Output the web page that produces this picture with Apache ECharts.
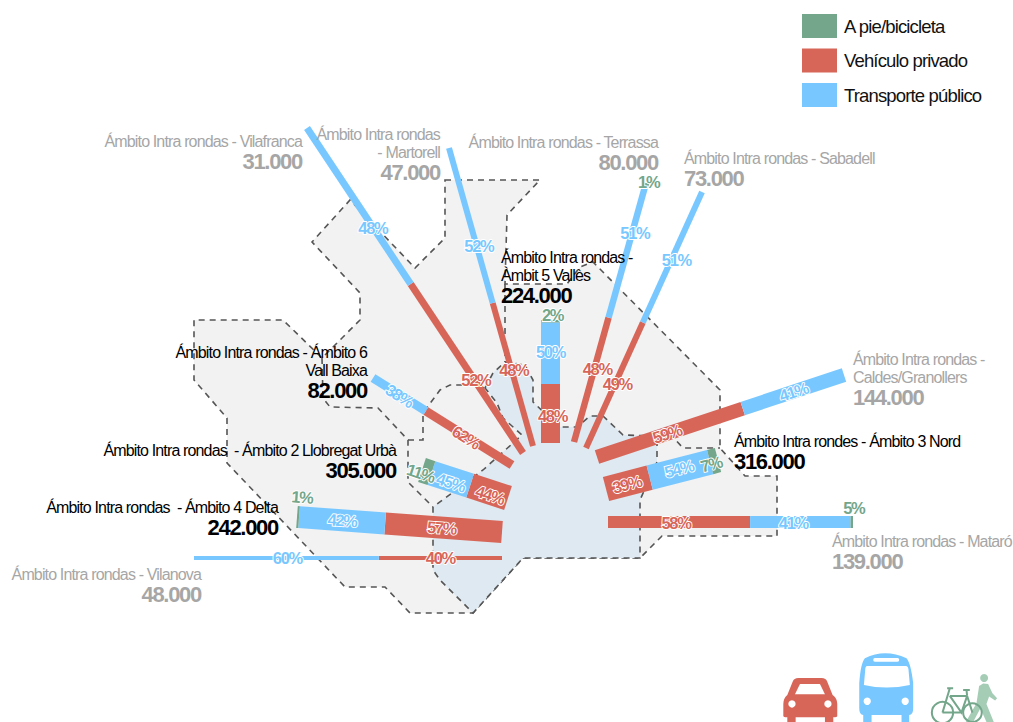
<!DOCTYPE html>
<html>
<head>
<meta charset="utf-8">
<title>Ámbito Intra rondas</title>
<script src="https://cdn.jsdelivr.net/npm/echarts@6/dist/echarts.min.js"></script>
<style>
    html, body { margin: 0; padding: 0; background: #fff; }
    #chart { width: 1013px; height: 722px; }
    #chart text { letter-spacing: -0.85px; }
    /* las etiquetas de % y los totales van mas apretados */
    #chart text[style*="16.5px"] { letter-spacing: -1.3px; }
    #chart text[style*="22px"] { letter-spacing: -1.3px; }
</style>
</head>
<body>
<div id="chart"></div>
<script>
// datos
var spokeNames = [
    'Ámbito Intra rondas - Vilafranca',
    'Ámbito Intra rondas\n- Martorell',
    'Ámbito Intra rondas -\nÀmbit 5 Vallès',
    'Ámbito Intra rondas - Terrassa',
    'Ámbito Intra rondas - Sabadell',
    'Ámbito Intra rondas -\nCaldes/Granollers',
    'Ámbito Intra rondes - Ámbito 3 Nord',
    'Ámbito Intra rondas - Mataró',
    'Ámbito Intra rondas - Vilanova',
    'Ámbito Intra rondas  - Ámbito 4 Delta',
    'Ámbito Intra rondas  - Ámbito 2 Llobregat Urbà',
    'Ámbito Intra rondas - Ámbito 6\nVall Baixa'
];
var tripTotals = [31000, 47000, 224000, 80000, 73000, 144000, 316000, 139000, 48000, 242000, 305000, 82000];
var privateShare = [52, 48, 48, 48, 49, 59, 39, 58, 40, 57, 44, 62];
var publicShare = [48, 52, 50, 51, 51, 41, 54, 41, 60, 42, 45, 38];
// Mataró: la etiqueta dice 5% pero la barra solo dibuja una linea, por eso walkShare lleva 1
var walkShare = [0, 0, 2, 1, 0, 0, 7, 1, 0, 1, 11, 0];
var walkLabels = ['', '', '2%', '1%', '', '', '7%', '5%', '', '1%', '11%', ''];

var modeNames = ['A pie/bicicleta', 'Vehículo privado', 'Transporte público'];
var modeColors = { walk: '#73a68a', private: '#d76659', public: '#78c8ff' };

// colocacion de cada radio sobre el plano (unidades del eje, 1013 x 722)
var spokeLayout = [
    { from: [523, 453], to: [307, 128], width: 7 },
    { from: [533, 446], to: [449, 148], width: 6 },
    { from: [550.5, 443], to: [550.5, 320], width: 19 },
    { from: [574, 442], to: [646, 183], width: 6.5 },
    { from: [586, 448], to: [702, 192], width: 6 },
    { from: [597, 457], to: [844, 375], width: 14, tilt: true },
    { from: [606, 489], to: [718, 460], width: 25, tilt: true },
    { from: [608, 522], to: [853, 522], width: 12 },
    { from: [502, 558], to: [194, 558], width: 4 },
    { from: [502, 532], to: [297, 517], width: 22, tilt: true },
    { from: [508, 498], to: [422, 470], width: 25, tilt: true },
    { from: [512, 465], to: [373, 378], width: 9, tilt: true }
];
// ajuste de cada etiqueta [privado, publico, a pie]
var labelNudge = [
    [[9, 11], [14, 22], [0, 0]],
    [[1, -4], [8, 21], [0, 0]],
    [[2, 2.5], [0, -1], [2, -6]],
    [[6, -11], [8, -19], [3, -2]],
    [[3, -1], [4, 3], [0, 0]],
    [[-3, 1], [0, 0], [0, 0]],
    [[-1, 1], [-1, -1], [-3, 3]],
    [[-3, 1], [-7, 1], [2, -14]],
    [[0, 0], [1, 0], [0, 0]],
    [[-2, 0], [0, 0], [4, -20]],
    [[1, 3], [0, 3], [-6, 1.5]],
    [[-3, -1], [0, 1], [0, 0]]
];
var textLayout = [
    { at: [302, 141], align: 'right', grey: true },
    { at: [440, 134], align: 'right', grey: true },
    { at: [501, 257], align: 'left' },
    { at: [658, 142], align: 'right', grey: true },
    { at: [684, 158], align: 'left', grey: true },
    { at: [853, 359], align: 'left', grey: true },
    { at: [734, 441], align: 'left' },
    { at: [832, 541], align: 'left', grey: true },
    { at: [201, 574], align: 'right', grey: true },
    { at: [278, 507], align: 'right' },
    { at: [396, 450], align: 'right' },
    { at: [367, 352], align: 'right' }
];

// contornos del mapa
var outerArea = [[445, 180], [540, 180], [507, 215], [505, 284], [567, 284], [580, 267], [593, 262], [720, 390], [720, 448], [745, 476], [777, 476], [777, 536], [662, 536], [640, 558], [523, 558], [473, 613], [410, 613], [385, 587], [345, 587], [227, 463], [227, 418], [194, 380], [194, 320], [283, 320], [322, 358], [360, 320], [360, 293], [312, 242], [350, 200], [415, 268], [445, 238]];
var centreArea = [[485, 388], [493, 373], [505, 362], [525, 365], [533, 380], [533, 402], [552, 420], [560, 427], [577, 427], [590, 416], [603, 416], [623, 435], [657, 436], [657, 462], [640, 500], [640, 558], [523, 558], [473, 613], [440, 580], [433, 570], [433, 507], [483, 470], [522, 435], [503, 418], [497, 403]];
var innerBorders = [
    [[505, 284], [505, 362]],
    [[322, 358], [323, 398], [330, 407], [378, 408], [408, 440], [408, 482], [433, 507]],
    [[408, 440], [423, 440], [423, 413], [440, 390], [450, 385], [467, 385], [485, 388]],
    [[657, 436], [673, 437], [683, 448], [720, 448]]
];

function fmtTotal(v) {
    return String(v).replace(/(\d)(?=(\d{3})+$)/g, '$1.');
}

function share(i) {
    return [privateShare[i], publicShare[i], walkShare[i]];
}

// tramo del radio i para el modo m (0 privado, 1 publico, 2 a pie)
function segmentEnds(i, m, api) {
    var s = share(i), sum = s[0] + s[1] + s[2], before = 0;
    for (var k = 0; k < m; k++) {
        before += s[k];
    }
    var a = spokeLayout[i].from, b = spokeLayout[i].to;
    var t0 = before / sum, t1 = (before + s[m]) / sum;
    return [
        api.coord([a[0] + (b[0] - a[0]) * t0, a[1] + (b[1] - a[1]) * t0]),
        api.coord([a[0] + (b[0] - a[0]) * t1, a[1] + (b[1] - a[1]) * t1])
    ];
}

function renderSegment(m, color) {
    return function (params, api) {
        var i = api.value(0);
        if (!share(i)[m]) {
            return null;
        }
        var e = segmentEnds(i, m, api);
        var dx = e[1][0] - e[0][0], dy = e[1][1] - e[0][1];
        var len = Math.sqrt(dx * dx + dy * dy);
        var hw = spokeLayout[i].width / 2;
        var nx = -dy / len * hw, ny = dx / len * hw;
        return {
            type: 'polygon',
            shape: {
                points: [
                    [e[0][0] + nx, e[0][1] + ny],
                    [e[1][0] + nx, e[1][1] + ny],
                    [e[1][0] - nx, e[1][1] - ny],
                    [e[0][0] - nx, e[0][1] - ny]
                ]
            },
            style: { fill: color }
        };
    };
}

function renderPercents(params, api) {
    var i = api.value(0);
    var texts = [privateShare[i] + '%', publicShare[i] + '%', walkLabels[i]];
    var colors = [modeColors.private, modeColors.public, modeColors.walk];
    var a = spokeLayout[i].from, b = spokeLayout[i].to;
    var rot = spokeLayout[i].tilt ? Math.atan2(a[1] - b[1], b[0] - a[0]) : 0;
    if (rot > Math.PI / 2) {
        rot -= Math.PI;
    } else if (rot < -Math.PI / 2) {
        rot += Math.PI;
    }
    var children = [];
    for (var m = 0; m < 3; m++) {
        if (!texts[m]) {
            continue;
        }
        var e = segmentEnds(i, m, api);
        var n = labelNudge[i][m];
        children.push({
            type: 'text',
            x: (e[0][0] + e[1][0]) / 2 + n[0],
            y: (e[0][1] + e[1][1]) / 2 + n[1],
            rotation: rot,
            style: {
                text: texts[m],
                fill: colors[m],
                stroke: '#fff',
                lineWidth: 1.8,
                align: 'center',
                verticalAlign: 'middle',
                font: 'bold 16.5px "Liberation Sans"'
            }
        });
    }
    return { type: 'group', children: children };
}

function renderNames(params, api) {
    var i = api.value(0);
    var t = textLayout[i];
    var p = api.coord(t.at);
    var color = t.grey ? '#a6a6a6' : '#000';
    var lines = spokeNames[i].split('\n');
    var children = [];
    for (var k = 0; k < lines.length; k++) {
        children.push({
            type: 'text',
            x: p[0],
            y: p[1] + k * 18,
            style: { text: lines[k], fill: color, align: t.align, verticalAlign: 'middle', font: '16px "Liberation Sans"' }
        });
    }
    children.push({
        type: 'text',
        x: p[0],
        y: p[1] + (lines.length - 1) * 18 + 20.5,
        style: { text: fmtTotal(tripTotals[i]), fill: color, align: t.align, verticalAlign: 'middle', font: 'bold 22px "Liberation Sans"' }
    });
    return { type: 'group', children: children };
}

function renderArea(params, api) {
    var i = api.value(0);
    var areas = [outerArea, centreArea];
    var fills = ['#f2f2f2', '#dfe9f2'];
    return {
        type: 'polygon',
        shape: { points: areas[i].map(function (p) { return api.coord(p); }) },
        style: { fill: fills[i], stroke: '#555', lineWidth: 1.6, lineDash: [6, 5] }
    };
}

function renderBorder(params, api) {
    return {
        type: 'polyline',
        shape: { points: innerBorders[api.value(0)].map(function (p) { return api.coord(p); }) },
        style: { fill: 'none', stroke: '#555', lineWidth: 1.6, lineDash: [6, 5] }
    };
}

// iconos de abajo, trazados a escala 3x
function iconPath(d, x0, y0, x1, y1, style) {
    return { type: 'path', shape: { pathData: d, x: x0, y: y0, width: x1 - x0, height: y1 - y0, layout: 'cover' }, style: style };
}

function renderIcons() {
    var white = { fill: '#fff' };
    var walker = { fill: '#a5cdb6' };
    var bike = { fill: 'none', stroke: modeColors.walk, lineWidth: 6 };
    return {
        type: 'group',
        x: 770,
        y: 640,
        scaleX: 1 / 3,
        scaleY: 1 / 3,
        children: [
            iconPath('M40 192 Q40 175 52 165 L68 125 Q72 114 85 114 H155 Q168 114 172 125 L188 165 Q202 175 202 192 V228 Q202 232 190 232 V246 H165 V232 H77 V246 H52 V232 Q40 232 40 228 Z', 40, 114, 202, 246, { fill: modeColors.private }),
            { type: 'polygon', shape: { points: [[75, 163], [90, 132], [150, 132], [165, 163]] }, style: white },
            { type: 'circle', shape: { cx: 66, cy: 192, r: 11 }, style: white },
            { type: 'circle', shape: { cx: 174, cy: 192, r: 11 }, style: white },
            iconPath('M268 130 Q272 70 285 55 Q345 25 410 55 Q423 70 430 130 V205 Q430 225 418 225 V246 H395 V225 H305 V246 H280 V225 Q268 225 268 205 Z', 268, 40, 430, 246, { fill: modeColors.public }),
            { type: 'rect', shape: { x: 310, y: 54, width: 78, height: 11, r: 5 }, style: white },
            iconPath('M292 78 H408 Q415 78 416 90 L420 135 Q385 143 350 143 Q315 143 282 135 L286 90 Q286 78 292 78 Z', 282, 78, 420, 143, white),
            { type: 'circle', shape: { cx: 292, cy: 184, r: 11 }, style: white },
            { type: 'circle', shape: { cx: 406, cy: 184, r: 11 }, style: white },
            { type: 'circle', shape: { cx: 643, cy: 114, r: 12 }, style: walker },
            { type: 'polygon', shape: { points: [[628, 138], [640, 131], [655, 132], [668, 160], [682, 175], [676, 182], [658, 170], [650, 192], [672, 246], [650, 246], [632, 205], [610, 246], [588, 246], [620, 190]] }, style: walker },
            { type: 'circle', shape: { cx: 518, cy: 218, r: 32 }, style: bike },
            { type: 'circle', shape: { cx: 608, cy: 218, r: 28 }, style: bike },
            iconPath('M518 218 L540 145 M532 145 H550 M540 168 H592 L608 218 M540 168 L575 218 L592 168 M580 150 H600 M590 150 L592 168 M518 218 H575', 518, 145, 608, 218, bike)
        ]
    };
}

var spokeIndex = spokeNames.map(function (n, i) { return [i]; });

var chart = echarts.init(document.getElementById('chart'), null, { renderer: 'svg' });

var option = {
    animation: false,
    textStyle: { fontFamily: '"Liberation Sans"' },
    grid: { left: 0, right: 0, top: 0, bottom: 0 },
    xAxis: { type: 'value', min: 0, max: 1013, show: false },
    yAxis: { type: 'value', min: 0, max: 722, inverse: true, show: false },
    legend: {
        data: modeNames,
        orient: 'vertical',
        left: 802,
        top: 14,
        padding: 0,
        itemWidth: 35,
        itemHeight: 24,
        itemGap: 10.5,
        icon: 'rect',
        selectedMode: false,
        textStyle: { fontSize: 18.5, color: '#111', fontFamily: '"Liberation Sans"', padding: [0, 0, 0, 2] }
    },
    series: [
        { type: 'custom', silent: true, z: 1, renderItem: renderArea, data: [[0], [1]] },
        { type: 'custom', silent: true, z: 2, renderItem: renderBorder, data: innerBorders.map(function (b, i) { return [i]; }) },
        { type: 'custom', name: modeNames[1], z: 3, silent: true, renderItem: renderSegment(0, modeColors.private), itemStyle: { color: modeColors.private }, data: spokeIndex },
        { type: 'custom', name: modeNames[2], z: 3, silent: true, renderItem: renderSegment(1, modeColors.public), itemStyle: { color: modeColors.public }, data: spokeIndex },
        { type: 'custom', name: modeNames[0], z: 3, silent: true, renderItem: renderSegment(2, modeColors.walk), itemStyle: { color: modeColors.walk }, data: spokeIndex },
        { type: 'custom', silent: true, z: 4, renderItem: renderNames, data: spokeIndex },
        { type: 'custom', silent: true, z: 5, renderItem: renderPercents, data: spokeIndex },
        { type: 'custom', silent: true, z: 6, renderItem: renderIcons, data: [[0]] }
    ]
};
chart.setOption(option);
</script>
</body>
</html>
